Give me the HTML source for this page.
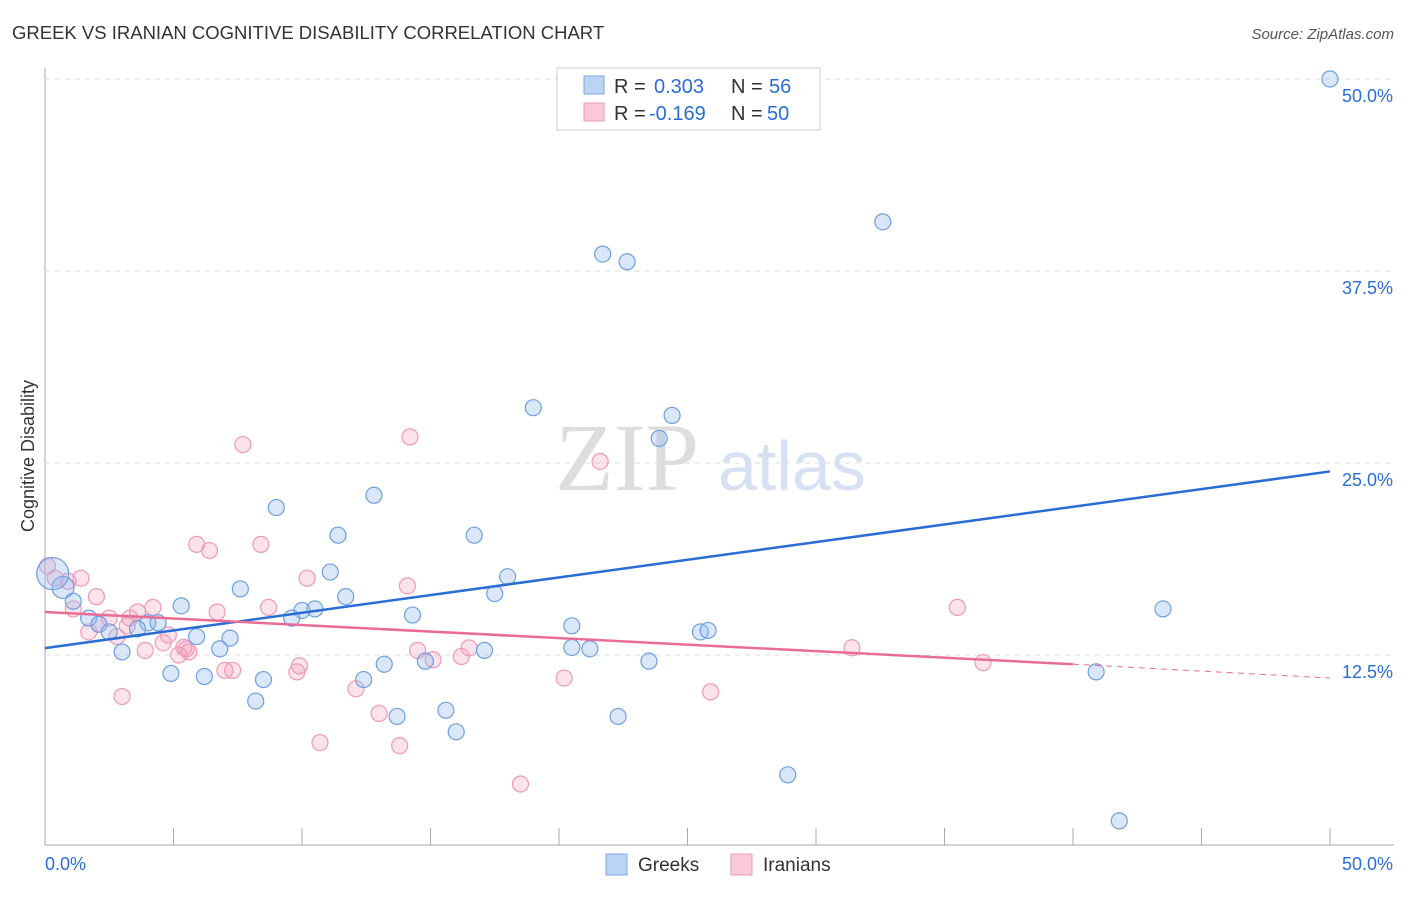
<!DOCTYPE html>
<html><head><meta charset="utf-8"><style>
body{margin:0;background:#fff;font-family:"Liberation Sans",sans-serif;}
</style></head><body>
<svg id="c" width="1406" height="892" xmlns="http://www.w3.org/2000/svg">
<text x="12" y="39" font-size="18.5" fill="#333">GREEK VS IRANIAN COGNITIVE DISABILITY CORRELATION CHART</text>
<text x="1394" y="39" font-size="15" fill="#555" font-style="italic" text-anchor="end">Source: ZipAtlas.com</text>
<text x="34" y="456" font-size="18" fill="#333" transform="rotate(-90 34 456)" text-anchor="middle">Cognitive Disability</text>
<text x="555" y="490" font-size="96" fill="#ddd" font-family="Liberation Serif">ZIP</text>
<text x="718" y="490" font-size="70" fill="#d6e2f3">atlas</text>
<g id="grid"></g><g id="pts"></g><g id="lines"></g>
<g>
<rect x="557" y="68" width="263" height="62" fill="#fff" stroke="#ccc"/>
<rect x="584" y="76" width="20" height="18" fill="#bcd4f4" stroke="#7aa7e6"/>
<rect x="584" y="103" width="20" height="18" fill="#f9c9d8" stroke="#ee9ab5"/>
<text y="93" font-size="20" fill="#333"><tspan x="614">R =</tspan><tspan x="654" fill="#2a6dd4">0.303</tspan><tspan x="731">N =</tspan><tspan x="769" fill="#2a6dd4">56</tspan></text>
<text y="120" font-size="20" fill="#333"><tspan x="614">R =</tspan><tspan x="649" fill="#2a6dd4">-0.169</tspan><tspan x="731">N =</tspan><tspan x="767" fill="#2a6dd4">50</tspan></text>
</g>
<g>
<rect x="606" y="854" width="21" height="21" fill="#bcd4f4" stroke="#7aa7e6"/>
<text x="638" y="871" font-size="19" fill="#333">Greeks</text>
<rect x="731" y="854" width="21" height="21" fill="#f9c9d8" stroke="#ee9ab5"/>
<text x="763" y="871" font-size="19" fill="#333">Iranians</text>
</g>
</svg>
<script>
const yTicks=[12.5,25,37.5,50];
const xTickLabels=["0.0%","50.0%"];
const greekX=[50,32.6,21.7,22.65,19.0,24.4,23.9,12.8,9.0,11.4,16.7,7.6,11.1,18.0,11.7,17.5,5.3,1.7,2.1,10.0,10.5,9.6,14.3,4.0,4.4,2.5,3.6,5.9,7.2,3.0,20.5,25.5,25.8,20.5,21.2,17.1,6.8,23.5,13.2,14.8,4.9,6.2,8.5,12.4,8.2,15.6,13.7,22.3,16.0,43.5,40.9,28.9,41.8,0.7,0.3,1.1];
const greekY=[50,40.7,38.6,38.1,28.6,28.1,26.6,22.9,22.1,20.3,20.3,16.8,17.9,17.6,16.3,16.5,15.7,14.9,14.5,15.4,15.5,14.9,15.1,14.6,14.6,14.0,14.2,13.7,13.6,12.7,14.4,14.0,14.1,12.99,12.9,12.8,12.9,12.1,11.9,12.1,11.3,11.1,10.9,10.9,9.5,8.9,8.5,8.5,7.5,15.5,11.4,4.7,1.7,16.9,17.8,16.0];
const iranX=[7.7,14.2,21.6,5.9,6.4,8.4,1.4,10.2,14.1,2.0,1.1,4.2,3.6,6.7,8.7,2.5,3.2,1.7,4.8,4.6,3.9,5.4,5.6,5.2,2.8,14.5,16.5,16.2,15.1,9.9,9.8,7.0,7.3,12.1,20.2,25.9,3.0,13.0,10.7,13.8,18.5,35.5,31.4,36.5,0.4,0.9,2.1,5.5,3.3,0.1];
const iranY=[26.2,26.7,25.1,19.7,19.3,19.7,17.5,17.5,17.0,16.3,15.5,15.6,15.3,15.3,15.6,14.9,14.4,14.0,13.8,13.3,12.8,13.0,12.7,12.5,13.7,12.8,12.96,12.4,12.2,11.8,11.4,11.5,11.5,10.3,11.0,10.1,9.8,8.7,6.8,6.6,4.1,15.6,12.97,12.0,17.5,17.3,14.5,12.9,14.9,18.3];
const greekSize=[8,8,8,8,8,8,8,8,8,8,8,8,8,8,8,8,8,8,8,8,8,8,8,8,8,8,8,8,8,8,8,8,8,8,8,8,8,8,8,8,8,8,8,8,8,8,8,8,8,8,8,8,8,11,16,8];
const X=v=>45+v/50*1285, Y=v=>847-v*15.36;
const NS="http://www.w3.org/2000/svg";
function mk(t,a,p){const e=document.createElementNS(NS,t);for(const k in a)e.setAttribute(k,a[k]);p.appendChild(e);return e;}
const g=document.getElementById('grid');
mk('line',{x1:45,y1:68,x2:45,y2:845,stroke:'#aaa'},g);
mk('line',{x1:45,y1:845,x2:1394,y2:845,stroke:'#aaa'},g);
for(let i=0;i<=10;i++){const x=45+i*128.5;const t=mk('line',{x1:x,y1:845,x2:x,y2:828,stroke:'#aaa'},g);

}
yTicks.forEach(v=>{const l=mk('line',{x1:45,y1:Y(v),x2:1394,y2:Y(v),stroke:'#ddd','stroke-dasharray':'5,5'},g);


const t=mk('text',{x:1393,y:Y(v)+23,'font-size':18,fill:'#2a6dd4','text-anchor':'end'},g);t.textContent=v.toFixed(1)+'%';

});
xTickLabels.forEach((s,i)=>{const t=mk('text',{x:i?1393:45,y:870,'font-size':18,fill:'#2a6dd4','text-anchor':i?'end':'start'},g);t.textContent=s;

});
const p=document.getElementById('pts');
iranX.forEach((x,i)=>{const c=mk('circle',{cx:X(x),cy:Y(iranY[i]),r:8,fill:'rgba(244,160,190,0.3)',stroke:'#ec9ab6','stroke-width':1.2},p);

});
greekX.forEach((x,i)=>{const c=mk('circle',{cx:X(x),cy:Y(greekY[i]),r:greekSize[i],fill:'rgba(150,185,235,0.35)',stroke:'#6f9fe0','stroke-width':1.2},p);

});
const L=document.getElementById('lines');
const b=mk('line',{x1:X(0),y1:Y(12.95),x2:X(50),y2:Y(24.45),stroke:'#2a6dd4','stroke-width':2.5},L);


const r=mk('line',{x1:X(0),y1:Y(15.3),x2:X(40),y2:Y(11.9),stroke:'#e86d96','stroke-width':2.5},L);


const rd=mk('line',{x1:X(40),y1:Y(11.9),x2:X(50),y2:Y(11.0),stroke:'#e86d96','stroke-width':1,'stroke-dasharray':'6,5'},L);


</script>
</body></html>
